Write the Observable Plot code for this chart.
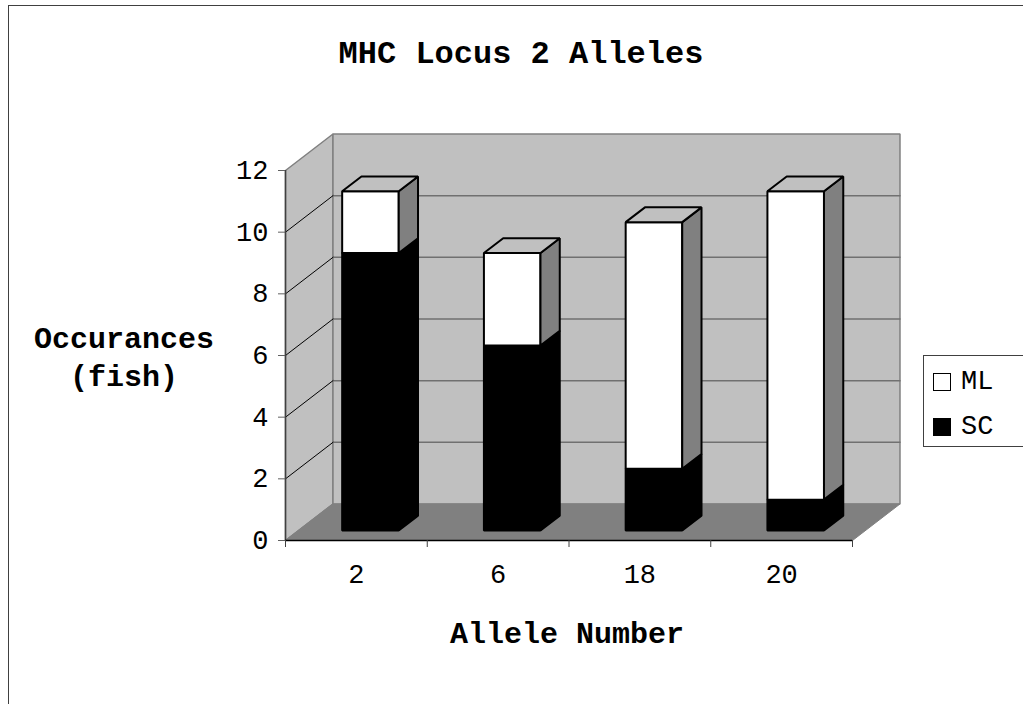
<!DOCTYPE html>
<html>
<head>
<meta charset="utf-8">
<script src="https://cdn.jsdelivr.net/npm/d3@7"></script>
<script src="https://cdn.jsdelivr.net/npm/@observablehq/plot@0.6"></script>
<style>
  html, body { margin: 0; padding: 0; background: #fff; }
  #wrap { position: relative; width: 1023px; height: 704px; overflow: hidden; font-family: "Courier New", "Liberation Mono", monospace; }
  #border { position: absolute; left: 8px; top: 5px; width: 1100px; height: 800px; border: 1.5px solid #404040; box-sizing: border-box; }
  .lbl { position: absolute; transform: translate(-50%, -50%); white-space: nowrap; font-weight: bold; color: #000; }
  #chart { position: absolute; left: 0; top: 0; }
  #legend { position: absolute; left: 923px; top: 355px; width: 130px; height: 92px; border: 1.2px solid #404040; box-sizing: border-box; background: #fff; }
  .sw { position: absolute; width: 18px; height: 18px; border: 1.5px solid #000; box-sizing: border-box; }
  .lt { position: absolute; font-size: 27px; line-height: 27px; }
</style>
</head>
<body>
<div id="wrap">
  <div id="border"></div>
  <div id="chart"></div>
  <div class="lbl" style="left:521px; top:54px; font-size:32px;">MHC Locus 2 Alleles</div>
  <div class="lbl" style="left:124px; top:340px; font-size:30px;">Occurances</div>
  <div class="lbl" style="left:124px; top:378px; font-size:30px;">(fish)</div>
  <div class="lbl" style="left:567px; top:635px; font-size:30px;">Allele Number</div>
  <div id="legend"></div>
</div>
<script>
// ---- data ----
const alleles = ["2", "6", "18", "20"];
const scValues = [9, 6, 2, 1];
const mlValues = [2, 3, 8, 10];
const yTicks = [0, 2, 4, 6, 8, 10, 12];
const seriesNames = ["ML", "SC"];

// ---- oblique projection (depth offset in data units) ----
const DX = 0.335, DY = 1.184;
const F0 = 0.308, F1 = 0.707;   // bar front face within band
const D0 = 0.274, D1 = 0.68;    // bar depth extent
const P = (x, y, d) => ({x: x + d * DX, y: y + d * DY});

function poly(list, id, pts) { pts.forEach(p => list.push({id, ...p})); }

const leftWall = [], backWall = [], floor = [];
poly(leftWall, "lw", [P(0,0,0), P(0,12,0), P(0,12,1), P(0,0,1)]);
poly(backWall, "bw", [P(0,0,1), P(4,0,1), P(4,12,1), P(0,12,1)]);
poly(floor, "fl", [P(0,0,0), P(4,0,0), P(4,0,1), P(0,0,1)]);

const backGrid = [], leftGrid = [];
yTicks.filter(v => v > 0 && v < 12).forEach(v => {
  poly(backGrid, "g" + v, [P(0, v, 1), P(4, v, 1)]);
  poly(leftGrid, "l" + v, [P(0, v, 0), P(0, v, 1)]);
});

const faces = {scFront: [], scSide: [], scTop: [], mlFront: [], mlSide: [], mlTop: []};
alleles.forEach((a, i) => {
  const segs = [["sc", 0, scValues[i]], ["ml", scValues[i], scValues[i] + mlValues[i]]];
  segs.forEach(([k, lo, hi]) => {
    if (hi <= lo) return;
    const x0 = i + F0, x1 = i + F1;
    poly(faces[k + "Front"], k + i, [P(x0, lo, D0), P(x1, lo, D0), P(x1, hi, D0), P(x0, hi, D0)]);
    poly(faces[k + "Side"], k + i, [P(x1, lo, D0), P(x1, lo, D1), P(x1, hi, D1), P(x1, hi, D0)]);
    poly(faces[k + "Top"], k + i, [P(x0, hi, D0), P(x1, hi, D0), P(x1, hi, D1), P(x0, hi, D1)]);
  });
});

const shape = (data, fill, stroke, sw) =>
  Plot.line(data, {x: "x", y: "y", z: "id", fill, stroke, strokeWidth: sw, curve: "linear-closed", strokeLinejoin: "miter"});
const seg = (data, stroke, sw) =>
  Plot.line(data, {x: "x", y: "y", z: "id", stroke, strokeWidth: sw});

const chart = Plot.plot({
  width: 1023,
  height: 704,
  marginLeft: 285,
  marginRight: 171,
  marginTop: 170,
  marginBottom: 164,
  x: {domain: [0, 4], axis: null},
  y: {domain: [0, 12], axis: null},
  style: {fontFamily: "'Courier New', 'Liberation Mono', monospace", fontSize: "27px", background: "transparent", overflow: "visible"},
  marks: [
    shape(leftWall, "#c0c0c0", "#808080", 1.5),
    shape(backWall, "#c0c0c0", "#808080", 1.5),
    seg(backGrid, "#707070", 1.5),
    seg(leftGrid, "#000", 1),
    shape(floor, "#808080", "#808080", 1),
    shape(faces.scFront, "#000", "#000", 2),
    shape(faces.scSide, "#000", "#000", 2),
    shape(faces.scTop, "#c0c0c0", "#000", 2),
    shape(faces.mlFront, "#fff", "#000", 2),
    shape(faces.mlSide, "#808080", "#000", 2),
    shape(faces.mlTop, "#c0c0c0", "#000", 2),
    Plot.ruleX([0], {y1: 0, y2: 12, stroke: "#404040", strokeWidth: 1.5}),
    Plot.ruleY([0], {x1: 0, x2: 4, stroke: "#000", strokeWidth: 1.5}),
    Plot.axisY({ticks: yTicks, tickSize: 7, stroke: "#606060", tickPadding: 0, tickFormat: () => "", label: null}),
    Plot.text(yTicks, {x: 0, y: d => d, text: d => String(d), dx: -17, textAnchor: "end", lineAnchor: "middle", fontSize: 27}),
    Plot.axisX({ticks: [0, 1, 2, 3, 4], tickSize: 7, stroke: "#404040", tickFormat: () => "", label: null}),
    Plot.text(alleles, {x: (d, i) => i + 0.5, y: 0, text: d => d, dy: 34, lineAnchor: "middle", fontSize: 27})
  ]
});
document.getElementById("chart").appendChild(chart);

// legend
const legend = document.getElementById("legend");
const legendFill = {ML: "#fff", SC: "#000"};
seriesNames.forEach((name, i) => {
  const sw = document.createElement("div");
  sw.className = "sw";
  sw.style.left = "9px";
  sw.style.top = (17 + i * 45) + "px";
  sw.style.background = legendFill[name];
  legend.appendChild(sw);
  const t = document.createElement("div");
  t.className = "lt";
  t.style.left = "37px";
  t.style.top = (13 + i * 45) + "px";
  t.textContent = name;
  legend.appendChild(t);
});
</script>
</body>
</html>
